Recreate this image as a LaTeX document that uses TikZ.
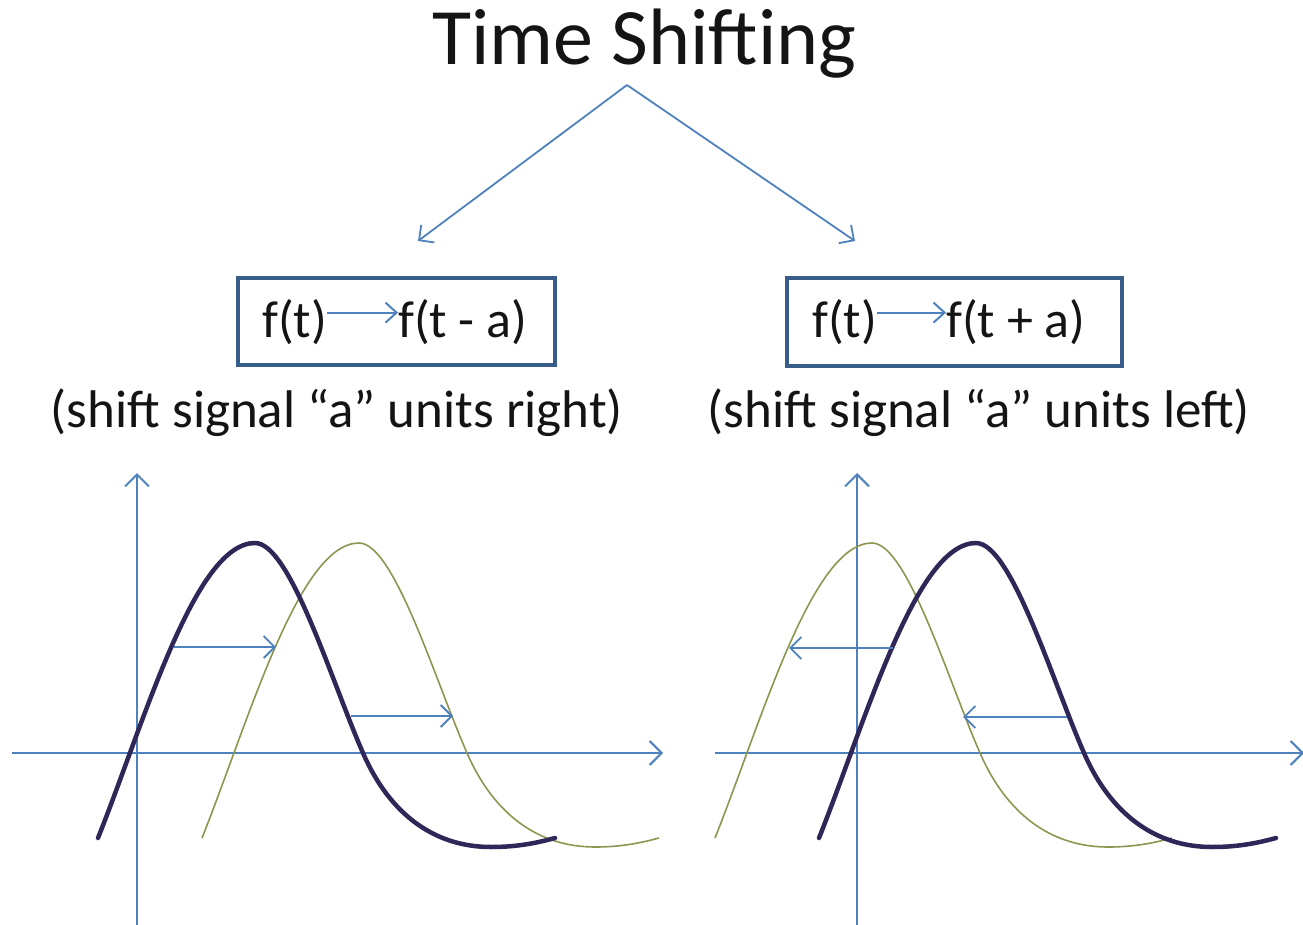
\documentclass[tikz,border=0pt]{standalone}
\usepackage{fontspec}
\setmainfont{Carlito}
\usetikzlibrary{arrows.meta}
\definecolor{ablue}{RGB}{79,129,189}
\definecolor{boxblue}{RGB}{56,93,138}
\definecolor{thickc}{RGB}{48,38,88}
\definecolor{thinc}{RGB}{140,150,80}
\definecolor{txtc}{RGB}{20,20,20}
\newcommand{\sigcurve}{(-157,838) .. controls (-110,720) and (-60,543) .. (0,543) .. controls (35,543) and (76,680) .. (108,753) .. controls (135,815) and (180,847) .. (236,847) .. controls (265,847) and (285,842) .. (300,838)}
\tikzset{
  arr/.style={draw=ablue, line width=1.8pt, -{Straight Barb[length=11pt,width=22pt]}},
  inarr/.style={draw=ablue, line width=2pt, -{Straight Barb[length=11pt,width=20pt]}},
  axis/.style={draw=ablue, line width=2pt, -{Straight Barb[length=12pt,width=24pt]}},
  fbox/.style={draw=boxblue, line width=3.5pt, inner sep=0pt},
  ftxt/.style={text=txtc, font=\fontsize{52}{60}\selectfont, inner sep=0pt, anchor=base west},
  sub/.style={text=txtc, font=\fontsize{53}{60}\selectfont, inner sep=0pt, anchor=base},
  thickcurve/.style={draw=thickc, line width=4.5pt, line cap=round},
  thincurve/.style={draw=thinc, line width=1.6pt},
}
\begin{document}
\begin{tikzpicture}[x=1pt,y=-1pt]
\useasboundingbox (0,0) rectangle (1303,925);
% title
\node[text=txtc, font=\fontsize{80}{90}\selectfont, inner sep=0pt, anchor=base] (title) at (644.5,65) {Time Shifting};
\coordinate (apex) at (627,85);
\coordinate (lt) at (418,241);
\coordinate (rt) at (855,241);
\draw[arr] (apex) -- (lt);
\draw[arr] (apex) -- (rt);
% left box
\node[fbox, minimum width=317pt, minimum height=87pt] (lbox) at (396.5,321.5) {};
\node[ftxt] (lf) at (262,337) {f(t)};
\node[ftxt] (lg) at (398,337) {f(t - a)};
\draw[inarr] ([yshift=9pt]lf.east) -- ([yshift=9pt]lg.west);
\node[sub] (lsub) at (337,427) {(shift signal “a” units right)};
% right box
\node[fbox, minimum width=335pt, minimum height=88pt] (rbox) at (954.5,322) {};
\node[ftxt] (rf) at (812,337) {f(t)};
\node[ftxt] (rg) at (946,337) {f(t + a)};
\draw[inarr] ([yshift=9pt]rf.east) -- ([yshift=9pt]rg.west);
\node[sub] (rsub) at (979,427) {(shift signal “a” units left)};
% left graph
\coordinate (ly0) at (137,925); \coordinate (ly1) at (137,473);
\coordinate (lx0) at (12,753);  \coordinate (lx1) at (663,753);
\draw[axis] (ly0) -- (ly1);
\draw[axis] (lx0) -- (lx1);
\draw[thincurve, shift={(359,0)}] \sigcurve;
\draw[thickcurve, shift={(255,0)}] \sigcurve;
\coordinate (la1) at (174,647); \coordinate (lb1) at (276,647);
\coordinate (la2) at (351,716); \coordinate (lb2) at (453,716);
\draw[arr] (la1) -- (lb1);
\draw[arr] (la2) -- (lb2);
% right graph
\coordinate (ry0) at (857,925); \coordinate (ry1) at (857,473);
\coordinate (rx0) at (715,753); \coordinate (rx1) at (1304,753);
\draw[axis] (ry0) -- (ry1);
\draw[axis] (rx0) -- (rx1);
\draw[thincurve, shift={(872,0)}] \sigcurve;
\draw[thickcurve, shift={(976,0)}] \sigcurve;
\coordinate (ra1) at (893,648); \coordinate (rb1) at (789,648);
\coordinate (ra2) at (1067,717); \coordinate (rb2) at (963,717);
\draw[arr] (ra1) -- (rb1);
\draw[arr] (ra2) -- (rb2);
\end{tikzpicture}
\end{document}
